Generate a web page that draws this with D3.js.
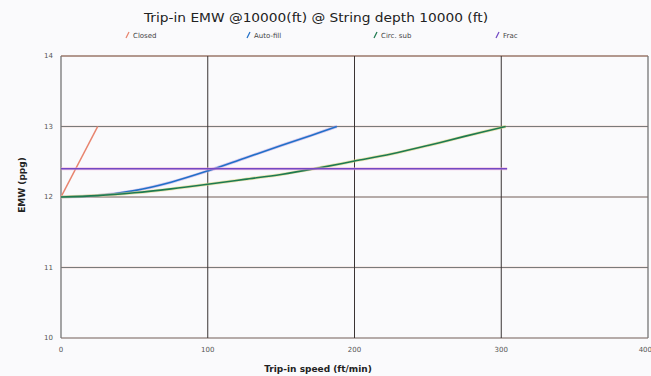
<!DOCTYPE html>
<html>
<head>
<meta charset="utf-8">
<script src="https://cdn.jsdelivr.net/npm/d3@7"></script>
<style>
	body { margin: 0; background: #fafafc; }
	svg { display: block; font-family: "DejaVu Sans", Verdana, sans-serif; }
	.tick-label { font-size: 7px; fill: #555; }
	.legend-label { font-size: 7px; fill: #444; }
	.axis-title { font-size: 9px; font-weight: bold; fill: #222; }
</style>
</head>
<body>
<div id="chart"></div>
<script>
// series (x = trip-in speed ft/min, y = EMW ppg)
const closedX = [0, 25];
const closedY = [12, 13];
const autoFillX = [0, 25, 50, 75, 100, 125, 150, 170, 188];
const autoFillY = [12, 12.02, 12.09, 12.21, 12.37, 12.55, 12.73, 12.87, 13];
const circSubX = [0, 25, 50, 75, 100, 125, 150, 175, 200, 225, 250, 275, 303];
const circSubY = [12, 12.02, 12.06, 12.115, 12.18, 12.25, 12.32, 12.41, 12.51, 12.61, 12.73, 12.86, 13];
const fracX = [0, 304];
const fracY = [12.4, 12.4];

const xTicks = [0, 100, 200, 300, 400];
const yTicks = [10, 11, 12, 13, 14];
const seriesNames = ["Closed", "Auto-fill", "Circ. sub", "Frac"];

const width = 651, height = 376;
const margin = {top: 56, right: 3, bottom: 38, left: 61};
const innerW = width - margin.left - margin.right;
const innerH = height - margin.top - margin.bottom;

const zip = (xs, ys) => xs.map((x, i) => ({x: x, y: ys[i]}));
const series = [
	{name: seriesNames[0], points: zip(closedX, closedY), color: "#e8846e", halo: null},
	{name: seriesNames[1], points: zip(autoFillX, autoFillY), color: "#2170c8", halo: "#c0a8e8"},
	{name: seriesNames[2], points: zip(circSubX, circSubY), color: "#1e7a50", halo: "#dcd47a"},
	{name: seriesNames[3], points: zip(fracX, fracY), color: "#7249c4", halo: "#f2a6d4"}
];

const svg = d3.select("#chart").append("svg")
	.attr("width", width)
	.attr("height", height);

svg.append("rect").attr("width", width).attr("height", height).attr("fill", "#fafafc");

const x = d3.scaleLinear().domain([0, 400]).range([0, innerW]);
const y = d3.scaleLinear().domain([10, 14]).range([innerH, 0]);

// Title
svg.append("text")
	.attr("x", 316)
	.attr("y", 22)
	.attr("text-anchor", "middle")
	.style("font-size", "13px")
	.style("fill", "#222")
	.attr("textLength", 344)
	.attr("lengthAdjust", "spacingAndGlyphs")
	.text("Trip-in EMW @10000(ft) @ String depth 10000 (ft)");

// legend
const legendX = [127, 248, 375, 497];
const legendItem = svg.append("g").selectAll("g")
	.data(series)
	.enter()
	.append("g")
	.attr("transform", (d, i) => "translate(" + legendX[i] + ",35)");
legendItem.append("line")
	.attr("x1", -1).attr("y1", 3)
	.attr("x2", 2).attr("y2", -3)
	.attr("stroke", d => d.color)
	.attr("stroke-width", 1.3);
legendItem.append("text")
	.classed("legend-label", true)
	.attr("x", 6)
	.attr("y", 2.5)
	.text(d => d.name);

const g = svg.append("g")
	.attr("transform", "translate(" + margin.left + "," + margin.top + ")");

// grid - horizontal
g.selectAll(".hgrid-halo")
	.data(yTicks)
	.enter()
	.append("line")
	.attr("x1", 0).attr("x2", innerW)
	.attr("y1", d => y(d)).attr("y2", d => y(d))
	.attr("stroke", d => d === 14 ? "#f4c8b4" : "#f0dcd8")
	.attr("stroke-width", 2.2);
g.selectAll(".hgrid")
	.data(yTicks)
	.enter()
	.append("line")
	.attr("x1", 0).attr("x2", innerW)
	.attr("y1", d => y(d)).attr("y2", d => y(d))
	.attr("stroke", d => d === 14 ? "#706868" : "#7a7a7a")
	.attr("stroke-width", 1);

// grid - vertical
g.selectAll(".vgrid")
	.data(xTicks)
	.enter()
	.append("line")
	.attr("x1", d => x(d)).attr("x2", d => x(d))
	.attr("y1", 0).attr("y2", innerH)
	.attr("stroke", d => (d === 0 || d === 400) ? "#767676" : "#3a3434")
	.attr("stroke-width", d => (d === 0 || d === 400) ? 1.3 : 1);

// tick labels
g.selectAll(".ylab")
	.data(yTicks)
	.enter()
	.append("text")
	.classed("tick-label", true)
	.attr("x", -8)
	.attr("y", d => y(d) + 2)
	.attr("text-anchor", "end")
	.text(d => d);
g.selectAll(".xlab")
	.data(xTicks)
	.enter()
	.append("text")
	.classed("tick-label", true)
	.attr("x", d => x(d))
	.attr("y", innerH + 14)
	.attr("text-anchor", d => d === 400 ? "end" : "middle")
	.attr("dx", d => d === 400 ? 4 : 0)
	.text(d => d);

// axis titles
svg.append("text")
	.classed("axis-title", true)
	.attr("x", 318)
	.attr("y", 372)
	.attr("text-anchor", "middle")
	.text("Trip-in speed (ft/min)");
svg.append("text")
	.classed("axis-title", true)
	.attr("transform", "rotate(-90)")
	.attr("x", -185)
	.attr("y", 25)
	.attr("text-anchor", "middle")
	.text("EMW (ppg)");

// Datasets
const line = d3.line()
	.x(p => x(p.x))
	.y(p => y(p.y))
	.curve(d3.curveCatmullRom);

series.forEach(s => {
	if (s.halo) {
		g.append("path")
			.datum(s.points)
			.attr("d", line)
			.attr("stroke", s.halo)
			.style("stroke-width", 3)
			.style("stroke-opacity", 0.6)
			.style("fill", "none");
	}
	g.append("path")
		.datum(s.points)
		.attr("d", line)
		.attr("stroke", s.color)
		.style("stroke-width", 1.6)
		.style("fill", "none");
});
</script>
</body>
</html>
